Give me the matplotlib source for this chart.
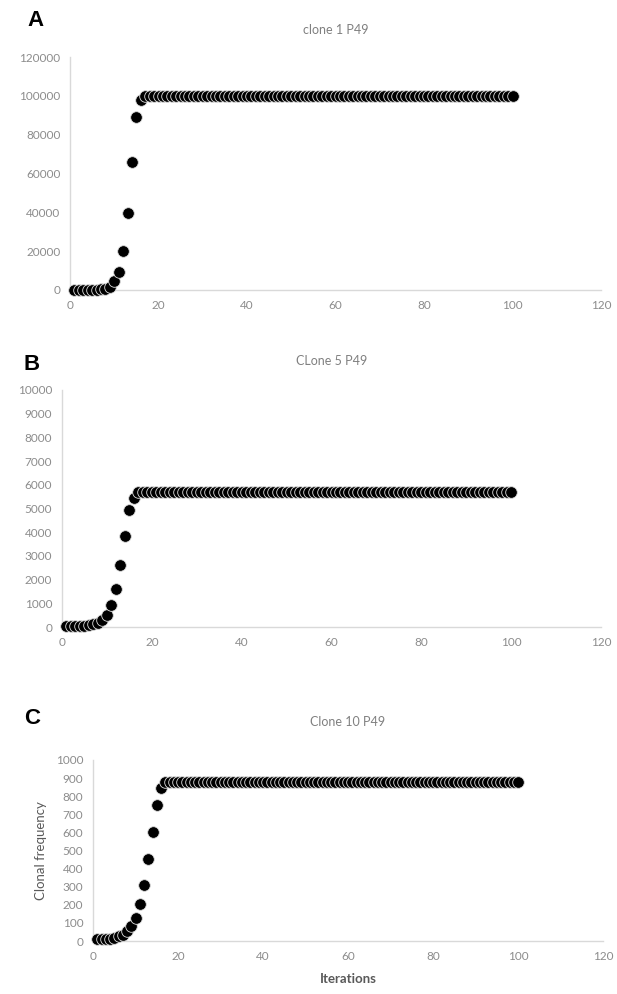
import matplotlib
matplotlib.use("Agg")
import matplotlib.pyplot as plt
import numpy as np

iterations = list(range(1, 101))

clone1_early = [30, 40, 60, 90, 130, 200, 300, 700, 1800, 4500, 9500, 20000, 39500, 66000, 89000, 98000]
clone1_plateau = 100000
clone5_early = [50, 50, 50, 50, 60, 80, 120, 180, 300, 500, 920, 1600, 2620, 3820, 4920, 5450]
clone5_plateau = 5680
clone10_early = [10, 10, 10, 10, 15, 25, 35, 55, 81, 129, 205, 308, 452, 604, 750, 843]
clone10_plateau = 876

clone1 = clone1_early + [clone1_plateau] * (100 - len(clone1_early))
clone5 = clone5_early + [clone5_plateau] * (100 - len(clone5_early))
clone10 = clone10_early + [clone10_plateau] * (100 - len(clone10_early))

titles = ["clone 1 P49", "CLone 5 P49", "Clone 10 P49"]
letters = ["A", "B", "C"]
ylims = [120000, 10000, 1000]
ysteps = [20000, 1000, 100]
xticks = [0, 20, 40, 60, 80, 100, 120]

plt.rcParams['font.family'] = ['Lato', 'DejaVu Sans']

fig = plt.figure(figsize=(6.17, 9.94), dpi=100)

rects = [
    [70/617, 1-290/994, 531/617, (290-57)/994],
    [62/617, 1-627/994, 539/617, (627-390)/994],
    [93/617, 1-941/994, 510/617, (941-760)/994],
]
title_y = [30, 361, 722]
letter_pos = [(35, 20), (32, 365), (32, 718)]

tick_color = '#8c8c8c'
spine_color = '#d9d9d9'

for i, (data, rect) in enumerate(zip([clone1, clone5, clone10], rects)):
    ax = fig.add_axes(rect)
    ax.scatter(iterations, data, s=70, c='black', edgecolors='#dddddd', linewidths=0.6, zorder=3, clip_on=False)
    ax.set_xlim(0, 120)
    ax.set_ylim(0, ylims[i])
    ax.set_xticks(xticks)
    ax.set_yticks(np.arange(0, ylims[i] + 1, ysteps[i]))
    for s in ['top', 'right']:
        ax.spines[s].set_visible(False)
    for s in ['left', 'bottom']:
        ax.spines[s].set_color(spine_color)
        ax.spines[s].set_linewidth(1.0)
    ax.tick_params(length=0, labelsize=8.5, colors=tick_color, pad=7)
    ax.set_facecolor('none')
    fig.text(0.5*(rect[0]+rect[0]+rect[2]), 1 - title_y[i]/994, titles[i],
             ha='center', va='center', fontsize=9, color='#808080')
    fig.text(letter_pos[i][0]/617, 1 - letter_pos[i][1]/994, letters[i],
             ha='center', va='center', fontsize=16, fontweight='bold', color='black',
             family=['Liberation Sans', 'DejaVu Sans'])
    if i == 2:
        ax.set_xlabel('Iterations', fontsize=9.5, fontweight='bold', color='#595959', labelpad=8)
        ax.set_ylabel('Clonal frequency', fontsize=9.5, color='#595959', labelpad=6)

fig.savefig('out.png', dpi=100)
